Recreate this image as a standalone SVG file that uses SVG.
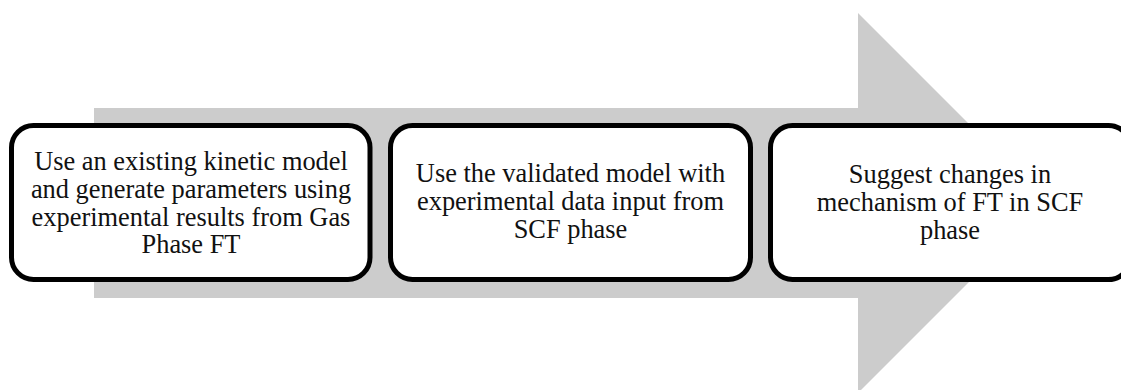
<svg xmlns="http://www.w3.org/2000/svg" width="1121" height="390" viewBox="0 0 1121 390">
  <style>
    .step rect { fill: #ffffff; stroke: #000000; stroke-width: 5; }
    .step text { font-family: "Liberation Serif", "Times New Roman", serif; font-size: 26.4px; fill: #111111; text-anchor: middle; }
  </style>
  <!-- Background process arrow -->
  <g id="process-arrow">
    <polygon points="94,108 858,108 858,13 1048,203 858,393 858,298 94,298" fill="#cccccc"/>
  </g>
  <g id="connectors"></g>
  <g id="step1" class="step">
    <rect x="11.5" y="125.5" width="358.5" height="154" rx="22" ry="22"/>
    <text x="191" y="170">Use an existing kinetic model</text>
    <text x="191" y="198">and generate parameters using</text>
    <text x="191" y="225.5">experimental results from Gas</text>
    <text x="191" y="253">Phase FT</text>
  </g>
  <g id="step2" class="step">
    <rect x="390.5" y="125.5" width="360" height="154" rx="22" ry="22"/>
    <text x="570.5" y="182">Use the validated model with</text>
    <text x="570.5" y="210">experimental data input from</text>
    <text x="570.5" y="237.5">SCF phase</text>
  </g>
  <g id="step3" class="step">
    <rect x="770.5" y="125.5" width="360" height="154" rx="22" ry="22"/>
    <text x="950" y="183">Suggest changes in</text>
    <text x="950" y="211">mechanism of FT in SCF</text>
    <text x="950" y="238.5">phase</text>
  </g>
</svg>
